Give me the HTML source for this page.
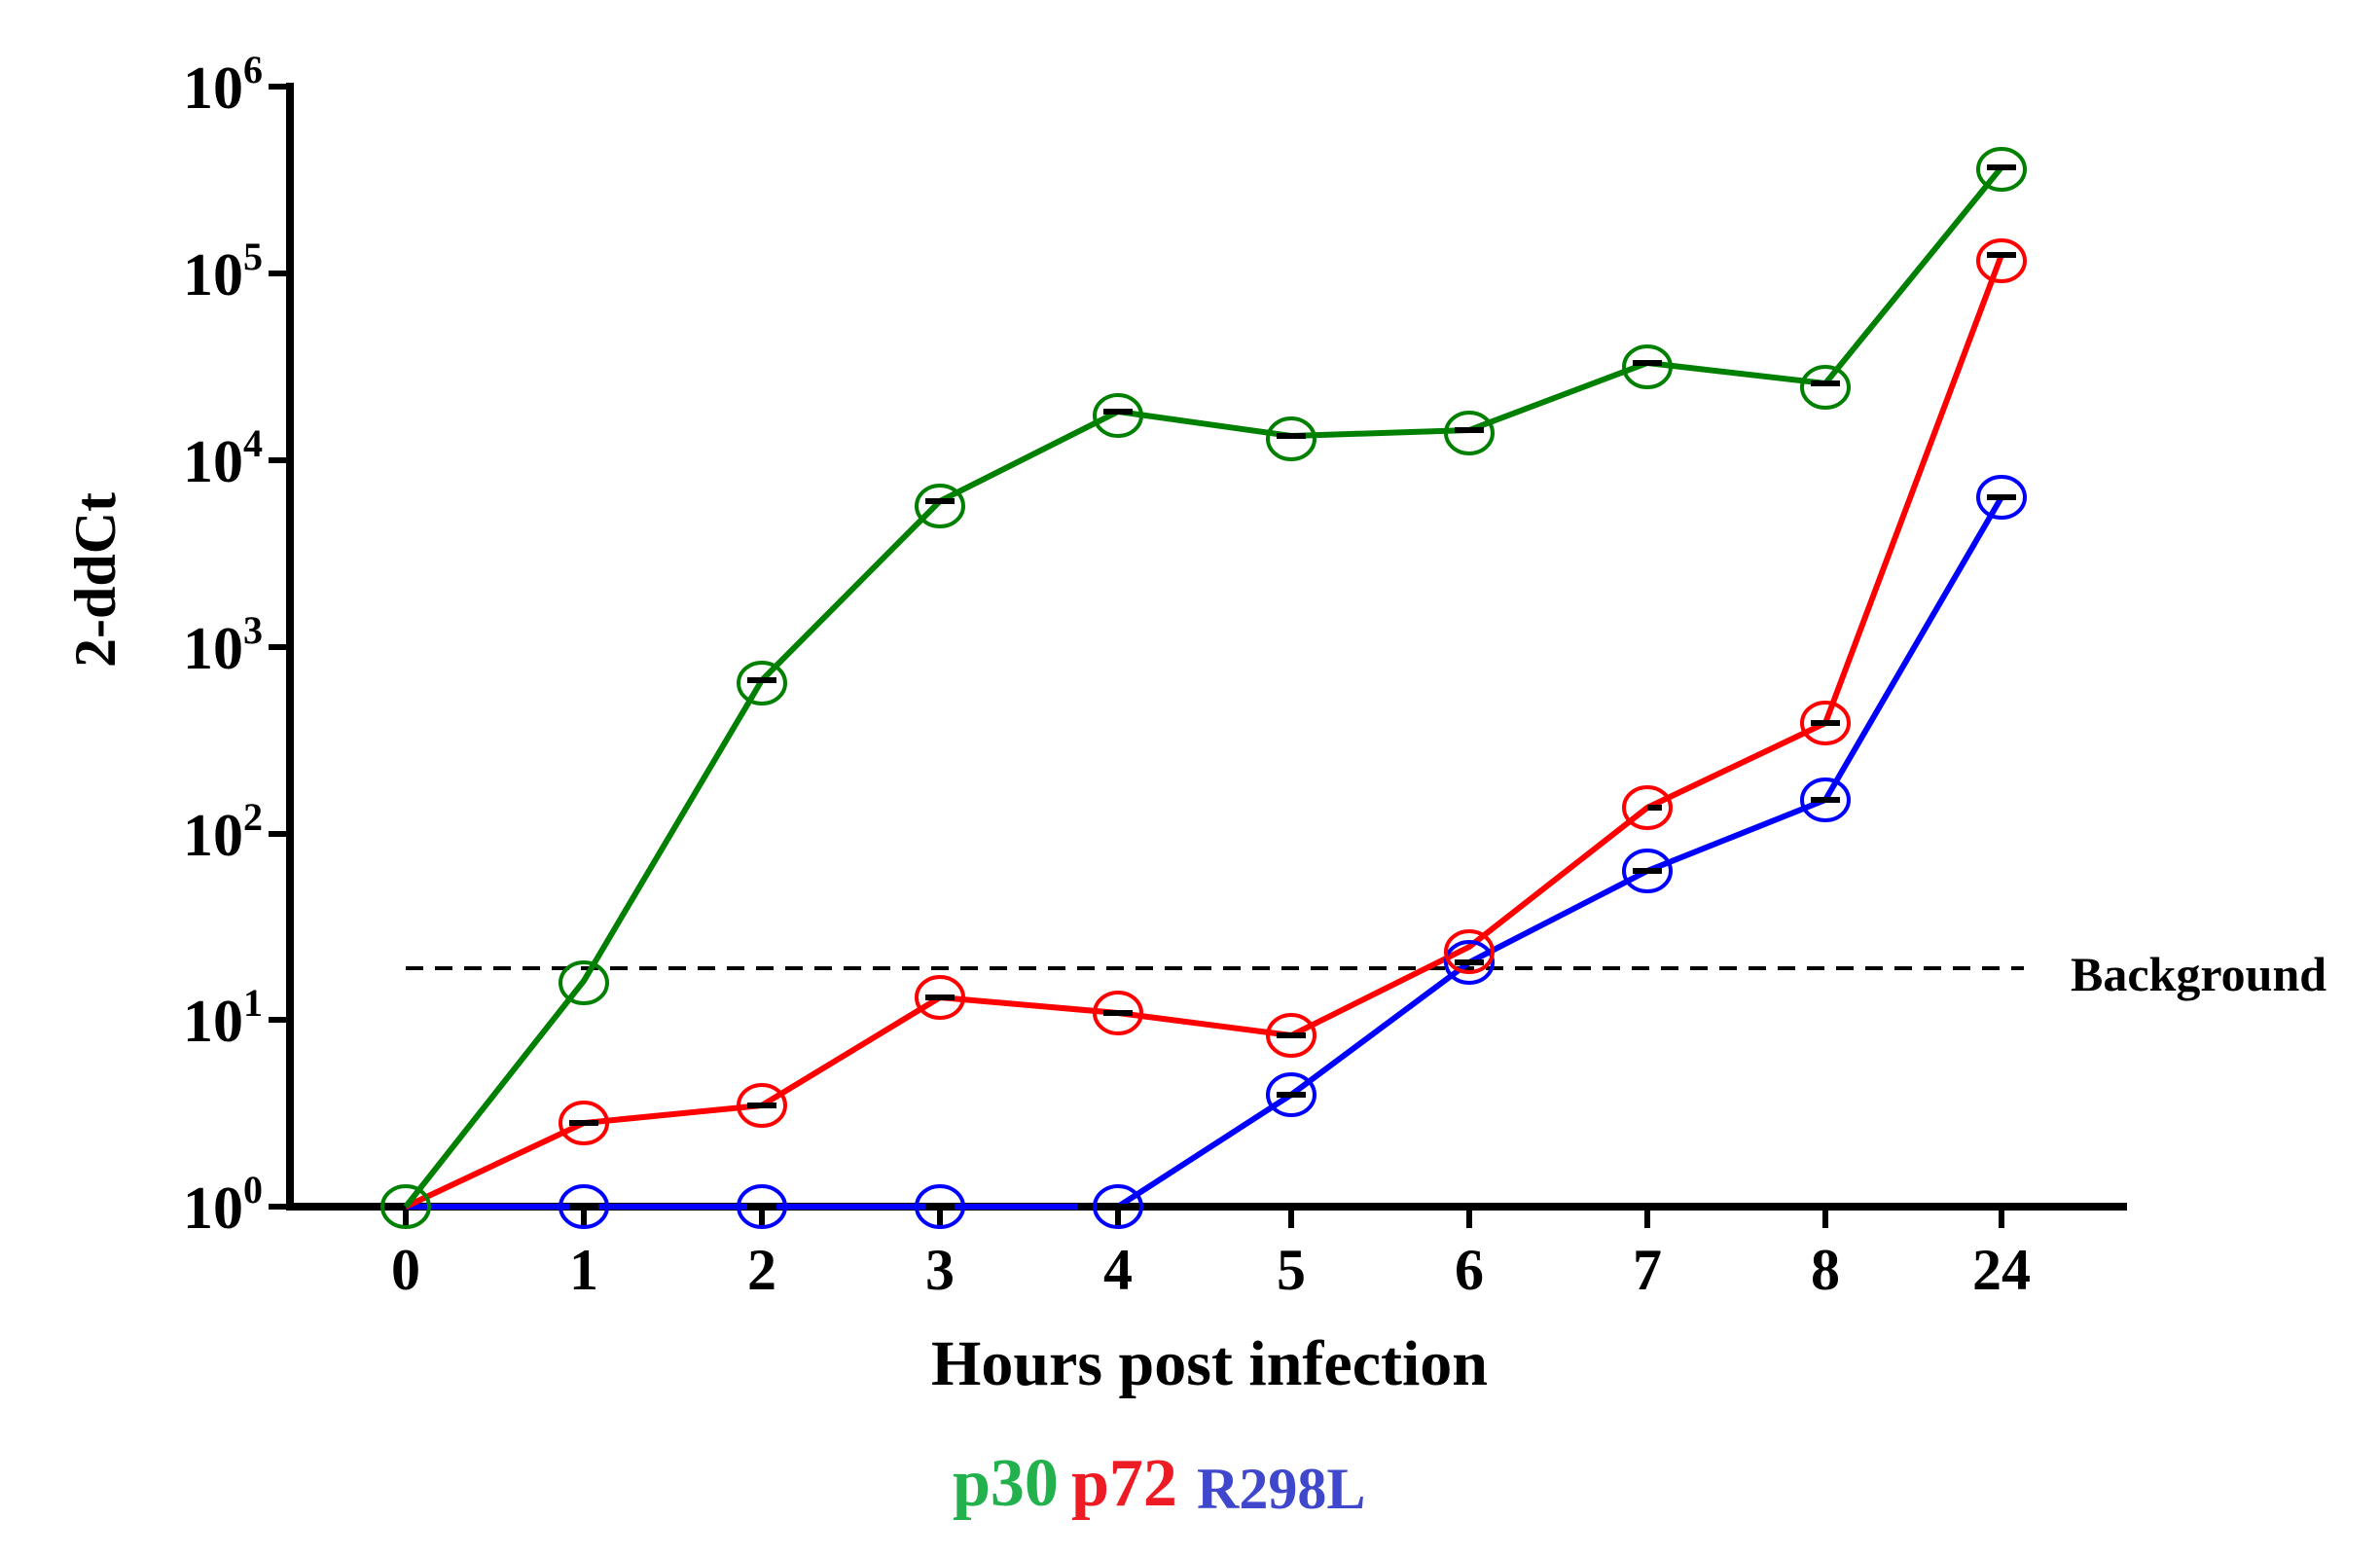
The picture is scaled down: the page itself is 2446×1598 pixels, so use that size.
<!DOCTYPE html>
<html><head><meta charset="utf-8"><style>html,body{margin:0;padding:0;background:#fff}svg{display:block}</style></head>
<body>
<svg width="2446" height="1598" viewBox="0 0 2446 1598" xmlns="http://www.w3.org/2000/svg" font-family="'Liberation Serif', serif" font-weight="bold">
<rect width="2446" height="1598" fill="#fff"/>
<line x1="298" y1="85" x2="298" y2="1244" stroke="#000" stroke-width="8"/>
<line x1="294" y1="1240" x2="2186" y2="1240" stroke="#000" stroke-width="8"/>
<g stroke="#000" stroke-width="6">
<line x1="276" y1="89" x2="298" y2="89"/>
<line x1="276" y1="281" x2="298" y2="281"/>
<line x1="276" y1="473" x2="298" y2="473"/>
<line x1="276" y1="665" x2="298" y2="665"/>
<line x1="276" y1="857" x2="298" y2="857"/>
<line x1="276" y1="1048" x2="298" y2="1048"/>
<line x1="276" y1="1240" x2="298" y2="1240"/>
<line x1="417" y1="1240" x2="417" y2="1262"/>
<line x1="600" y1="1240" x2="600" y2="1262"/>
<line x1="783" y1="1240" x2="783" y2="1262"/>
<line x1="966" y1="1240" x2="966" y2="1262"/>
<line x1="1149" y1="1240" x2="1149" y2="1262"/>
<line x1="1327" y1="1240" x2="1327" y2="1262"/>
<line x1="1510" y1="1240" x2="1510" y2="1262"/>
<line x1="1693" y1="1240" x2="1693" y2="1262"/>
<line x1="1876" y1="1240" x2="1876" y2="1262"/>
<line x1="2057" y1="1240" x2="2057" y2="1262"/>
</g>
<g font-size="62" text-anchor="end">
<text x="270" y="111">10<tspan font-size="40" dy="-26">6</tspan></text>
<text x="270" y="303">10<tspan font-size="40" dy="-26">5</tspan></text>
<text x="270" y="495">10<tspan font-size="40" dy="-26">4</tspan></text>
<text x="270" y="687">10<tspan font-size="40" dy="-26">3</tspan></text>
<text x="270" y="879">10<tspan font-size="40" dy="-26">2</tspan></text>
<text x="270" y="1070">10<tspan font-size="40" dy="-26">1</tspan></text>
<text x="270" y="1262">10<tspan font-size="40" dy="-26">0</tspan></text>
</g>
<g font-size="60" text-anchor="middle">
<text x="417" y="1325">0</text><text x="600" y="1325">1</text><text x="783" y="1325">2</text>
<text x="966" y="1325">3</text><text x="1149" y="1325">4</text><text x="1327" y="1325">5</text>
<text x="1510" y="1325">6</text><text x="1693" y="1325">7</text><text x="1876" y="1325">8</text>
<text x="2057" y="1325">24</text>
</g>
<text transform="translate(118,596) rotate(-90)" font-size="60" text-anchor="middle">2-ddCt</text>
<text x="1243" y="1423" font-size="66" text-anchor="middle">Hours post infection</text>
<text x="979" y="1547" font-size="70" fill="#22b14c">p30</text>
<text x="1101" y="1547" font-size="70" fill="#ed1c24">p72</text>
<text x="1230" y="1550" font-size="60" fill="#3f48cc">R298L</text>
<line x1="417" y1="995" x2="2080" y2="995" stroke="#000" stroke-width="4" stroke-dasharray="18,12"/>
<text x="2128" y="1018" font-size="50">Background</text>
<g fill="none" stroke-width="6">
<polyline stroke="#0000ff" points="417,1240 600,1240 783,1240 966,1240 1149,1240 1327,1125 1510,989 1693,895 1876,822 2057,511"/>
<polyline stroke="#ff0000" points="417,1240 600,1154 783,1136 966,1025 1149,1041 1327,1064 1510,973 1693,830 1876,743 2057,262"/>
<polyline stroke="#008000" points="417,1240 600,1008 783,699 966,515 1149,423 1327,448 1510,442 1693,373 1876,394 2057,172"/>
</g>
<g stroke="#000" stroke-width="6">
<line x1="1107" y1="1240" x2="1191" y2="1240"/>
<line x1="585" y1="1240" x2="615" y2="1240"/><line x1="768" y1="1240" x2="798" y2="1240"/><line x1="951" y1="1240" x2="981" y2="1240"/>
<line x1="1312" y1="1125" x2="1342" y2="1125"/><line x1="1495" y1="989" x2="1525" y2="989"/><line x1="1678" y1="895" x2="1708" y2="895"/><line x1="1861" y1="822" x2="1891" y2="822"/><line x1="2042" y1="511" x2="2072" y2="511"/>
<line x1="585" y1="1154" x2="615" y2="1154"/><line x1="768" y1="1136" x2="798" y2="1136"/><line x1="951" y1="1025" x2="981" y2="1025"/><line x1="1134" y1="1041" x2="1164" y2="1041"/><line x1="1312" y1="1064" x2="1342" y2="1064"/><line x1="1693" y1="830" x2="1708" y2="830"/><line x1="1861" y1="743" x2="1891" y2="743"/><line x1="2042" y1="262" x2="2072" y2="262"/>
<line x1="768" y1="699" x2="798" y2="699"/><line x1="951" y1="515" x2="981" y2="515"/><line x1="1134" y1="423" x2="1164" y2="423"/><line x1="1312" y1="448" x2="1342" y2="448"/><line x1="1495" y1="442" x2="1525" y2="442"/><line x1="1678" y1="373" x2="1708" y2="373"/><line x1="1861" y1="394" x2="1891" y2="394"/><line x1="2042" y1="172" x2="2072" y2="172"/>
</g>
<g fill="none" stroke-width="4">
<g stroke="#0000ff">
<ellipse cx="600" cy="1240" rx="24" ry="21"/><ellipse cx="783" cy="1240" rx="24" ry="21"/><ellipse cx="966" cy="1240" rx="24" ry="21"/><ellipse cx="1149" cy="1240" rx="24" ry="21"/><ellipse cx="1327" cy="1125" rx="24" ry="21"/><ellipse cx="1510" cy="989" rx="24" ry="21"/><ellipse cx="1693" cy="895" rx="24" ry="21"/><ellipse cx="1876" cy="822" rx="24" ry="21"/><ellipse cx="2057" cy="511" rx="24" ry="21"/>
</g>
<g stroke="#ff0000">
<ellipse cx="600" cy="1154" rx="24" ry="21"/><ellipse cx="783" cy="1136" rx="24" ry="21"/><ellipse cx="966" cy="1025" rx="24" ry="21"/><ellipse cx="1149" cy="1041" rx="24" ry="21"/><ellipse cx="1327" cy="1064" rx="24" ry="21"/><ellipse cx="1510" cy="978" rx="24" ry="21"/><ellipse cx="1693" cy="830" rx="24" ry="21"/><ellipse cx="1876" cy="743" rx="24" ry="21"/><ellipse cx="2057" cy="268" rx="24" ry="21"/>
</g>
<g stroke="#008000">
<ellipse cx="417" cy="1240" rx="24" ry="21"/><ellipse cx="600" cy="1010" rx="24" ry="21"/><ellipse cx="783" cy="702" rx="24" ry="21"/><ellipse cx="966" cy="520" rx="24" ry="21"/><ellipse cx="1149" cy="427" rx="24" ry="21"/><ellipse cx="1327" cy="451" rx="24" ry="21"/><ellipse cx="1510" cy="445" rx="24" ry="21"/><ellipse cx="1693" cy="377" rx="24" ry="21"/><ellipse cx="1876" cy="398" rx="24" ry="21"/><ellipse cx="2057" cy="174" rx="24" ry="21"/>
</g>
</g>
</svg>
</body></html>
